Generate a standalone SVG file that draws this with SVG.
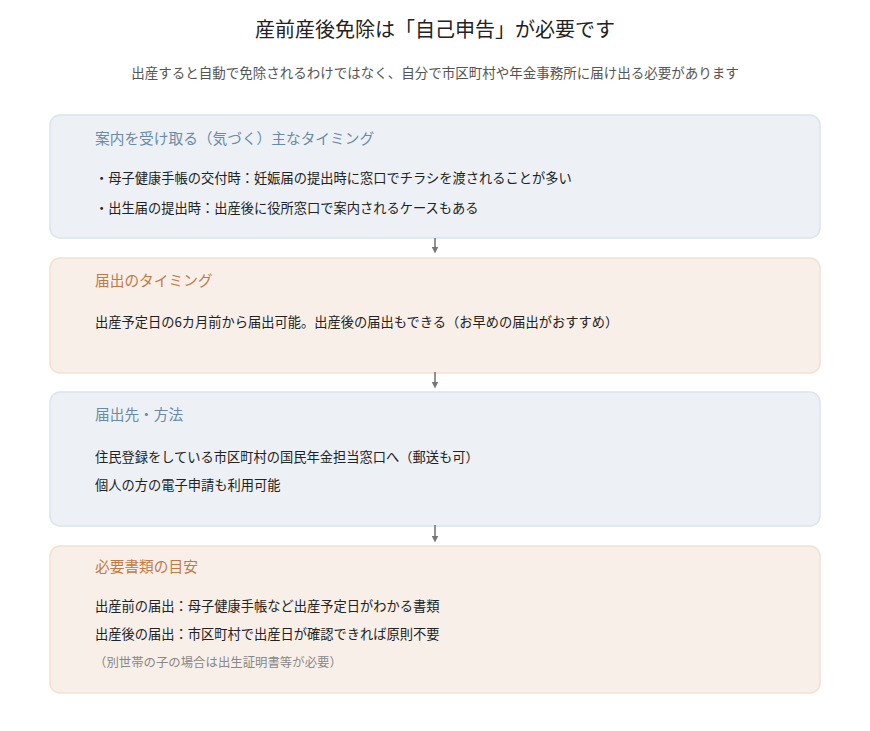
<svg xmlns="http://www.w3.org/2000/svg" width="870" height="731" viewBox="0 0 870 731">
<defs>
<style>
text{font-family:"Noto Sans CJK JP","Noto Sans",sans-serif;}
.title{font-size:20px;fill:#222;text-anchor:middle;}
.sub{font-size:13.5px;fill:#555;text-anchor:middle;}
.boxb{fill:#edf1f6;stroke:#dce4ed;stroke-width:1.5;}
.boxo{fill:#f8efe8;stroke:#f2e1d3;stroke-width:1.5;}
.hb{font-size:14.7px;fill:#6b8aa6;}
.ho{font-size:14.7px;fill:#c07a48;}
.body{font-size:13.25px;fill:#222;}
.note{font-size:12.4px;fill:#888;}
.conn{stroke:#777;stroke-width:1.6;fill:none;}
</style>
<marker id="ah" viewBox="0 0 10 10" refX="5" refY="5" markerWidth="7" markerHeight="7" markerUnits="userSpaceOnUse" orient="auto">
<path d="M0,0 L10,5 L0,10 z" fill="#777"/>
</marker>
</defs>
<rect width="870" height="731" fill="#ffffff"/>
<text class="title" x="435" y="37">産前産後免除は「自己申告」が必要です</text>
<text class="sub" x="435" y="78">出産すると自動で免除されるわけではなく、自分で市区町村や年金事務所に届け出る必要があります</text>

<g id="node1">
<rect class="boxb" x="50" y="115" width="770" height="123" rx="10"/>
<text class="hb" x="95" y="144">案内を受け取る（気づく）主なタイミング</text>
<text class="body" x="95" y="183">・母子健康手帳の交付時：妊娠届の提出時に窓口でチラシを渡されることが多い</text>
<text class="body" x="95" y="213">・出生届の提出時：出産後に役所窓口で案内されるケースもある</text>
</g>
<g id="node2">
<rect class="boxo" x="50" y="258" width="770" height="115" rx="10"/>
<text class="ho" x="95" y="286">届出のタイミング</text>
<text class="body" x="95" y="327">出産予定日の6カ月前から届出可能。出産後の届出もできる（お早めの届出がおすすめ）</text>
</g>
<g id="node3">
<rect class="boxb" x="50" y="392" width="770" height="134" rx="10"/>
<text class="hb" x="95" y="420">届出先・方法</text>
<text class="body" x="95" y="462">住民登録をしている市区町村の国民年金担当窓口へ（郵送も可）</text>
<text class="body" x="95" y="490">個人の方の電子申請も利用可能</text>
</g>
<g id="node4">
<rect class="boxo" x="50" y="546" width="770" height="147" rx="10"/>
<text class="ho" x="95" y="572">必要書類の目安</text>
<text class="body" x="95" y="611">出産前の届出：母子健康手帳など出産予定日がわかる書類</text>
<text class="body" x="95" y="639">出産後の届出：市区町村で出産日が確認できれば原則不要</text>
<text class="note" x="94" y="667">（別世帯の子の場合は出生証明書等が必要）</text>
</g>

<g id="connectors">
<line class="conn" x1="435" y1="238" x2="435" y2="250" marker-end="url(#ah)"/>
<line class="conn" x1="435" y1="372" x2="435" y2="385" marker-end="url(#ah)"/>
<line class="conn" x1="435" y1="525" x2="435" y2="539" marker-end="url(#ah)"/>
</g>
</svg>
